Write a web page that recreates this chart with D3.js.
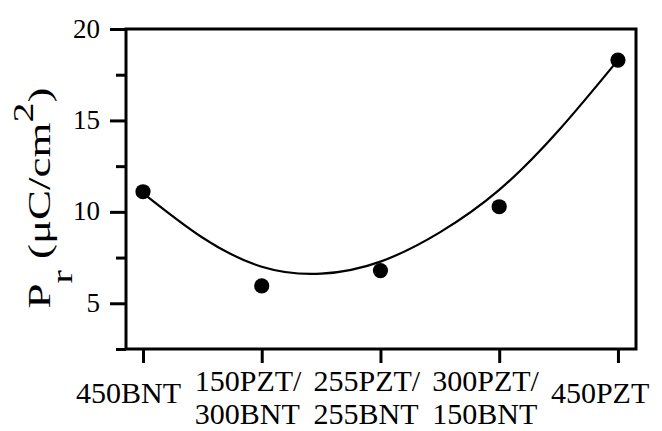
<!DOCTYPE html>
<html>
<head>
<meta charset="utf-8">
<script src="https://cdn.jsdelivr.net/npm/d3@7"></script>
<style>
  html, body { margin: 0; padding: 0; background: #fff; }
  svg { display: block; }
  text { font-family: "Liberation Serif", "Times New Roman", serif; fill: #000; }
</style>
</head>
<body>
<div class="chart"></div>
<script>
// samples along the x axis
const categories = [
  ['450BNT'],
  ['150PZT/', '300BNT'],
  ['255PZT/', '255BNT'],
  ['300PZT/', '150BNT'],
  ['450PZT'],
];
// measured Pr (uC/cm2)
const prValues = [11.1, 5.95, 6.79, 10.28, 18.3];
// fitted curve (category index, Pr)
const fitIndex = [0, 0.5, 1, 1.5, 2, 2.5, 3, 3.5, 4];
const fitValues = [11.03, 8.6, 7.0, 6.62, 7.28, 8.88, 11.2, 14.45, 18.3];
const yMajorTicks = [5, 10, 15, 20];
const yMinorTicks = [2.5, 7.5, 12.5, 17.5];

const width = 662, height = 431;
const plotLeft = 126, plotRight = 636, plotTop = 29, plotBottom = 349;

const svg = d3.select('.chart')
  .append('svg')
  .attr('width', width)
  .attr('height', height);

const x = d3.scaleLinear([-0.143, 4.152], [plotLeft, plotRight]);
const y = d3.scaleLinear([2.5, 20], [plotBottom, plotTop]);

// frame
svg.append('rect')
  .attr('x', plotLeft)
  .attr('y', plotTop)
  .attr('width', plotRight - plotLeft)
  .attr('height', plotBottom - plotTop)
  .attr('fill', 'none')
  .attr('stroke', '#000')
  .attr('stroke-width', 3);

// left axis: major + minor ticks
const yAxis = svg.append('g')
  .attr('transform', `translate(${plotLeft},0)`)
  .call(d3.axisLeft(y).tickValues(yMajorTicks).tickSize(16).tickPadding(10).tickFormat(d3.format('d')));
yAxis.select('.domain').remove();
yAxis.selectAll('line').attr('stroke', '#000').attr('stroke-width', 3);
yAxis.selectAll('text')
  .attr('font-size', 27)
  .attr('dy', '0.3em')
  .style('font-family', '"Liberation Serif", serif');

const yMinor = svg.append('g')
  .attr('transform', `translate(${plotLeft},0)`)
  .call(d3.axisLeft(y).tickValues(yMinorTicks).tickSize(10).tickFormat(''));
yMinor.select('.domain').remove();
yMinor.selectAll('line').attr('stroke', '#000').attr('stroke-width', 3);

// bottom axis
const xAxis = svg.append('g')
  .attr('transform', `translate(0,${plotBottom})`)
  .call(d3.axisBottom(x).tickValues(d3.range(categories.length)).tickSize(14).tickFormat(''));
xAxis.select('.domain').remove();
xAxis.selectAll('line').attr('stroke', '#000').attr('stroke-width', 3);

// category labels, lines left aligned
const labels = svg.append('g')
  .selectAll('text')
  .data(categories)
  .enter()
  .append('text')
  .attr('font-size', 30)
  .attr('text-anchor', 'start');
labels.each(function (d, i) {
  const t = d3.select(this);
  const baselines = d.length === 1 ? [403] : [391, 424];
  d.forEach((line, j) => {
    t.append('tspan')
      .attr('x', x(i) - 67)
      .attr('y', baselines[j])
      .text(line);
  });
});

// fitted curve
const line = d3.line()
  .x((d, i) => x(fitIndex[i]))
  .y((d) => y(d))
  .curve(d3.curveNatural);
svg.append('path')
  .datum(fitValues)
  .attr('d', line)
  .attr('fill', 'none')
  .attr('stroke', '#000')
  .attr('stroke-width', 2.2);

// data points
svg.append('g')
  .selectAll('circle')
  .data(prValues)
  .enter()
  .append('circle')
  .attr('cx', (d, i) => x(i))
  .attr('cy', (d) => y(d))
  .attr('r', 7.6)
  .attr('fill', '#000');

// y axis title
const title = svg.append('text')
  .attr('transform', 'translate(50,198) rotate(-90) scale(1,0.72)')
  .attr('text-anchor', 'middle')
  .attr('font-size', 45);
title.append('tspan').text('P');
title.append('tspan').attr('font-size', 40).attr('dy', 30).text('r');
title.append('tspan').attr('dy', -30).text(' (\u03bcC/cm');
title.append('tspan').attr('font-size', 40).attr('dy', -23).text('2');
title.append('tspan').attr('dy', 23).text(')');
</script>
</body>
</html>
